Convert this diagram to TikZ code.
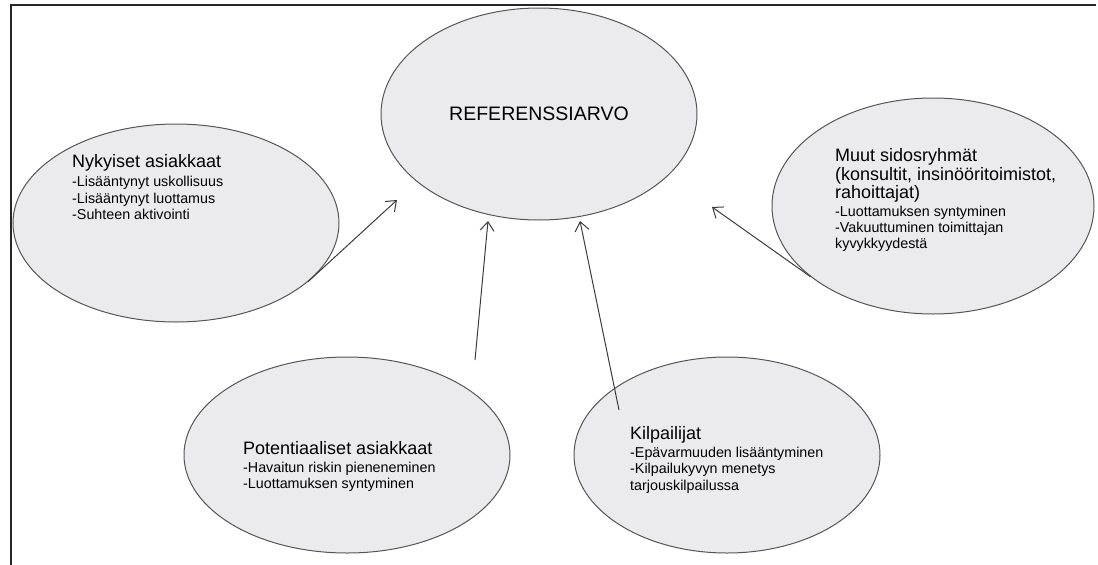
\documentclass[tikz,border=0pt]{standalone}
\usepackage{fontspec}
\setmainfont{Liberation Sans}
\usetikzlibrary{shapes.geometric,arrows.meta}
\definecolor{ellfill}{RGB}{235,235,237}
\definecolor{ellline}{RGB}{85,85,85}
\definecolor{arrline}{RGB}{60,60,60}
\begin{document}
\begin{tikzpicture}[x=1pt,y=-1pt,
  bubble/.style={ellipse, draw=ellline, fill=ellfill, line width=1pt, inner sep=0pt},
  txt/.style={anchor=north west, align=left, inner sep=0pt, font=\fontsize{14.3}{16.5}\selectfont},
  conn/.style={draw=arrline, line width=1pt, -{Straight Barb[length=9pt,width=14pt]}}]
\useasboundingbox (0,0) rectangle (1098,565);
\draw[line width=1.6pt, black!85] (11,565) -- (11,5) -- (1096,5);

\node[bubble, minimum width=316pt, minimum height=212pt] (ref) at (539,114)
  {\fontsize{19.5}{20}\selectfont REFERENSSIARVO};
\node[bubble, minimum width=326pt, minimum height=198pt] (nyk) at (176,223) {};
\node[bubble, minimum width=322pt, minimum height=216pt] (muut) at (933,206) {};
\node[bubble, minimum width=326pt, minimum height=196pt] (pot) at (347,455) {};
\node[bubble, minimum width=306pt, minimum height=196pt] (kil) at (727,455) {};

\node[txt] (nyktxt) at (72,154) {{\fontsize{18}{18}\selectfont Nykyiset asiakkaat}\\[3pt]
  -Lisääntynyt uskollisuus\\-Lisääntynyt luottamus\\-Suhteen aktivointi};
\node[txt] (muuttxt) at (835,148) {{\fontsize{18}{18}\selectfont Muut sidosryhmät}\\[1pt]
  {\fontsize{18}{18}\selectfont (konsultit, insinööritoimistot,}\\[0.5pt]
  {\fontsize{18}{18}\selectfont rahoittajat)}\\[1.5pt]
  -Luottamuksen syntyminen\\[-0.5pt]-Vakuuttuminen toimittajan\\[-0.5pt]kyvykkyydestä};
\node[txt] (pottxt) at (243,441) {{\fontsize{18}{18}\selectfont Potentiaaliset asiakkaat}\\[1.5pt]
  -Havaitun riskin pieneneminen\\-Luottamuksen syntyminen};
\node[txt] (kiltxt) at (630,426) {{\fontsize{18}{18}\selectfont Kilpailijat}\\[1.5pt]
  -Epävarmuuden lisääntyminen\\-Kilpailukyvyn menetys\\tarjouskilpailussa};

\coordinate (t1) at (397,200);
\coordinate (t2) at (488,221);
\coordinate (t3) at (580,221);
\coordinate (t4) at (712,207);
\coordinate (s2) at (475,360);
\coordinate (s3) at (619,410);
\draw[conn] (nyk.-24) -- (t1);
\draw[conn] (s2) -- (t2);
\draw[conn] (s3) -- (t3);
\draw[conn] (muut.-150) -- (t4);
\end{tikzpicture}
\end{document}
